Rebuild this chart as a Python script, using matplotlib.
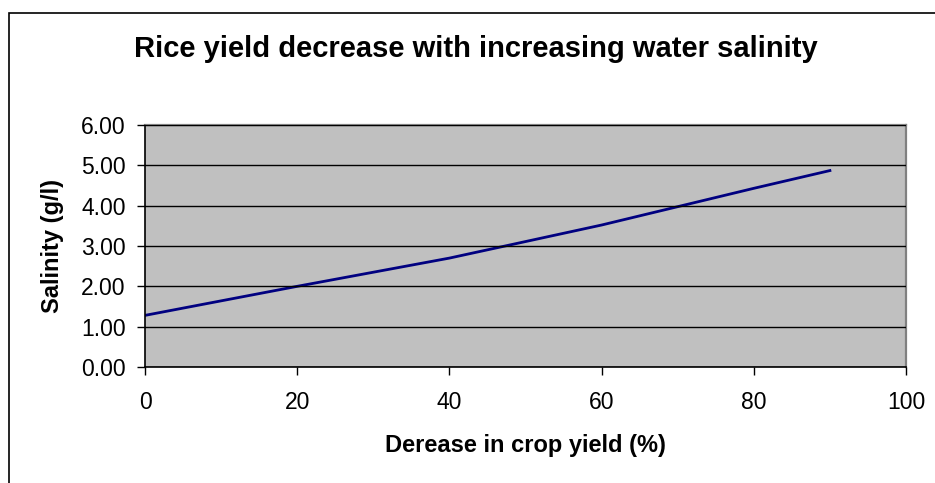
import matplotlib
matplotlib.use('Agg')
import matplotlib.pyplot as plt
from matplotlib.patches import Rectangle

# data
crop_yield_decrease = [0, 20, 40, 60, 80, 90]
salinity = [1.28, 2.00, 2.70, 3.52, 4.43, 4.87]
x_ticks = [0, 20, 40, 60, 80, 100]
y_ticks = [0, 1, 2, 3, 4, 5, 6]

title = 'Rice yield decrease with increasing water salinity'
x_label = 'Derease in crop yield (%)'
y_label = 'Salinity (g/l)'
caption = 'Figure 5: Decrease in rice yield (%) with increasing salinity (g/l)'

plt.rcParams['font.family'] = ['Liberation Sans', 'DejaVu Sans']

W, H = 935, 483
fig = plt.figure(figsize=(W / 100, H / 100), dpi=100)

# caption cut off at the top edge, only descenders visible
fig.text(10 / W, 1 + 6 / H, caption, fontsize=16, fontweight='bold',
         family=['Liberation Serif', 'DejaVu Serif'], va='baseline', ha='left')

# chart frame (runs past right/bottom edges)
fig.patches.append(Rectangle((9 / W, -0.1), 1.2, 1.1 - 13 / H, transform=fig.transFigure,
                             fill=False, edgecolor='black', linewidth=1.2))

ax = fig.add_axes([145 / W, 1 - 367 / H, 761 / W, 242 / H])
ax.set_facecolor('#C0C0C0')
ax.plot(crop_yield_decrease, salinity, color='#000080', linewidth=2.0)

ax.set_xlim(0, 100)
ax.set_ylim(0, 6)
ax.set_xticks(x_ticks)
ax.set_yticks(y_ticks)
ax.set_yticklabels([f'{v:.2f}' for v in y_ticks])
ax.yaxis.grid(True, color='black', linewidth=1)
ax.set_axisbelow(False)

ax.tick_params(axis='both', direction='out', length=6, width=1, color='black',
               labelsize=16.5)
ax.tick_params(axis='y', pad=8)
ax.tick_params(axis='x', pad=11)

for side in ['left', 'bottom']:
    ax.spines[side].set_color('black')
    ax.spines[side].set_linewidth(1.2)
for side in ['top', 'right']:
    ax.spines[side].set_color('#808080')
    ax.spines[side].set_linewidth(1.6)

ax.set_xlabel(x_label, fontsize=17, fontweight='bold')
ax.set_ylabel(y_label, fontsize=17, fontweight='bold')
ax.xaxis.set_label_coords(0.5, (367 - 434) / 242)
ax.yaxis.set_label_coords((64 - 145) / 761, 0.5)

fig.text(476 / W, 1 - 57 / H, title, fontsize=21, fontweight='bold',
         ha='center', va='baseline')

fig.savefig('out.png', dpi=100)
